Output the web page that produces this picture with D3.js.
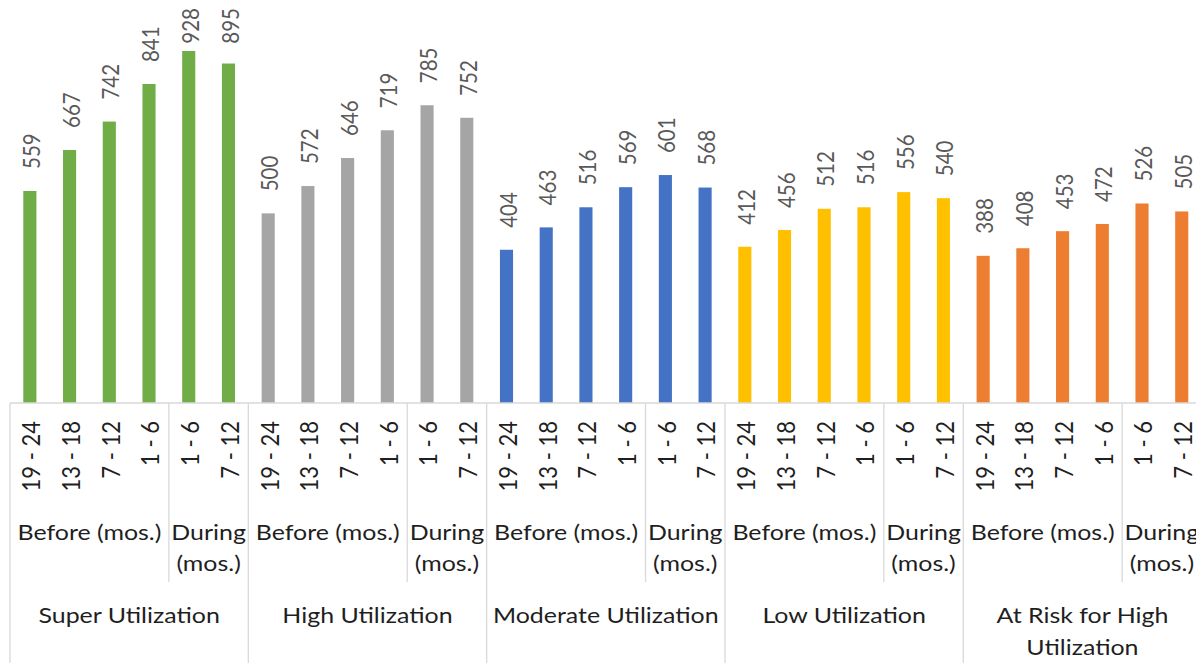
<!DOCTYPE html>
<html>
<head>
<meta charset="utf-8">
<script src="https://cdn.jsdelivr.net/npm/d3@7"></script>
<style>
html,body{margin:0;padding:0;background:#fff;overflow:hidden;}
svg{display:block;font-family:Lato,"Open Sans",sans-serif;}
</style>
</head>
<body>
<svg id="chart" width="1196" height="663"></svg>
<script>
// ---- data ----
const groups = ["Super Utilization", "High Utilization", "Moderate Utilization", "Low Utilization", "At Risk for High Utilization"];
const groupLines = [["Super Utilization"], ["High Utilization"], ["Moderate Utilization"], ["Low Utilization"], ["At Risk for High", "Utilization"]];
const phases = ["Before (mos.)", "During (mos.)"];
const phaseLines = [["Before (mos.)"], ["During", "(mos.)"]];
const periods = ["19 - 24", "13 - 18", "7 - 12", "1 - 6", "1 - 6", "7 - 12"];
const periodPhase = [0, 0, 0, 0, 1, 1];
const colors = ["#70AD47", "#A5A5A5", "#4472C4", "#FFC000", "#ED7D31"];
const superVals = [559, 667, 742, 841, 928, 895];
const highVals = [500, 572, 646, 719, 785, 752];
const moderateVals = [404, 463, 516, 569, 601, 568];
const lowVals = [412, 456, 512, 516, 556, 540];
const atRiskVals = [388, 408, 453, 472, 526, 505];
const seriesVals = [superVals, highVals, moderateVals, lowVals, atRiskVals];

// ---- build rows ----
const rows = [];
groups.forEach((g, gi) => {
  periods.forEach((p, pi) => {
    rows.push({key: gi + "-" + pi, group: gi, phase: periodPhase[pi], period: p, value: seriesVals[gi][pi], color: colors[gi]});
  });
});

const svg = d3.select("#chart");
const axisY = 403;
const left = 10, step = 39.72;
const x = d3.scaleBand().domain(rows.map(r => r.key)).range([left, left + step * rows.length]).paddingInner(0.67).paddingOuter(0.335);
const y = d3.scaleLinear().domain([0, 1000]).range([axisY, 23.7]);

const SX = 1.16;          // horizontal stretch of glyphs
const labFs = 20.5;       // data label font size
const axFs = 21.5;        // axis label font size
const gridColor = "#D9D9D9";
const half = (x.step() - x.bandwidth()) / 2;

// bars
svg.append("g").selectAll("rect").data(rows).join("rect")
  .attr("x", d => x(d.key))
  .attr("width", x.bandwidth())
  .attr("y", d => y(d.value))
  .attr("height", d => axisY - y(d.value))
  .attr("fill", d => d.color);

// data labels
const dl = svg.append("g").selectAll("text").data(rows).join("text")
  .attr("font-size", labFs)
  .attr("fill", "#595959")
  .attr("dy", "0.36em")
  .attr("text-anchor", "start")
  .text(d => d.value);
dl.each(function(d) {
  const len = this.getComputedTextLength();
  let base = y(d.value) - 22;
  if (base - len < 8) base = 8 + len;
  const cx = x(d.key) + x.bandwidth() / 2 + 1.5;
  d3.select(this).attr("transform", `translate(${cx},${base}) scale(${SX},1) rotate(-90)`);
});

// axis line
const right = left + step * rows.length;
svg.append("line").attr("x1", left).attr("x2", right).attr("y1", axisY).attr("y2", axisY)
  .attr("stroke", gridColor).attr("stroke-width", 1.5);

// level separators
const sep = svg.append("g").attr("stroke", gridColor).attr("stroke-width", 1.3);
groups.forEach((g, gi) => {
  const gx = x(gi + "-0") - half;
  sep.append("line").attr("x1", gx).attr("x2", gx).attr("y1", axisY).attr("y2", 663);
  const px = x(gi + "-4") - half;
  sep.append("line").attr("x1", px).attr("x2", px).attr("y1", axisY).attr("y2", 582);
});

// innermost level labels (rotated)
svg.append("g").selectAll("text").data(rows).join("text")
  .attr("font-size", 22)
  .attr("fill", "#1f1f1f")
  .attr("dy", "0.36em")
  .attr("text-anchor", "end")
  .attr("transform", d => `translate(${x(d.key) + x.bandwidth() / 2 + 1.5},421) scale(1.12,1) rotate(-90)`)
  .text(d => d.period);

// phase level labels
const phaseG = svg.append("g").attr("fill", "#1f1f1f").attr("font-size", axFs);
groups.forEach((g, gi) => {
  [[0, 3], [4, 5]].forEach((rng, ph) => {
    const x0 = x(gi + "-" + rng[0]) - half;
    const x1 = x(gi + "-" + rng[1]) + x.bandwidth() + half;
    const cx = (x0 + x1) / 2;
    phaseLines[ph].forEach((ln, li) => {
      phaseG.append("text").attr("text-anchor", "middle")
        .attr("transform", `translate(${cx},${540 + li * 31}) scale(${SX},1)`)
        .text(ln);
    });
  });
});

// group level labels
const grpG = svg.append("g").attr("fill", "#1f1f1f").attr("font-size", axFs);
groups.forEach((g, gi) => {
  const x0 = x(gi + "-0") - half;
  const cx = x0 + x.step() * 3;
  groupLines[gi].forEach((ln, li) => {
    grpG.append("text").attr("text-anchor", "middle")
      .attr("transform", `translate(${cx},${623 + li * 32}) scale(${SX},1)`)
      .text(ln);
  });
});
</script>
</body>
</html>
